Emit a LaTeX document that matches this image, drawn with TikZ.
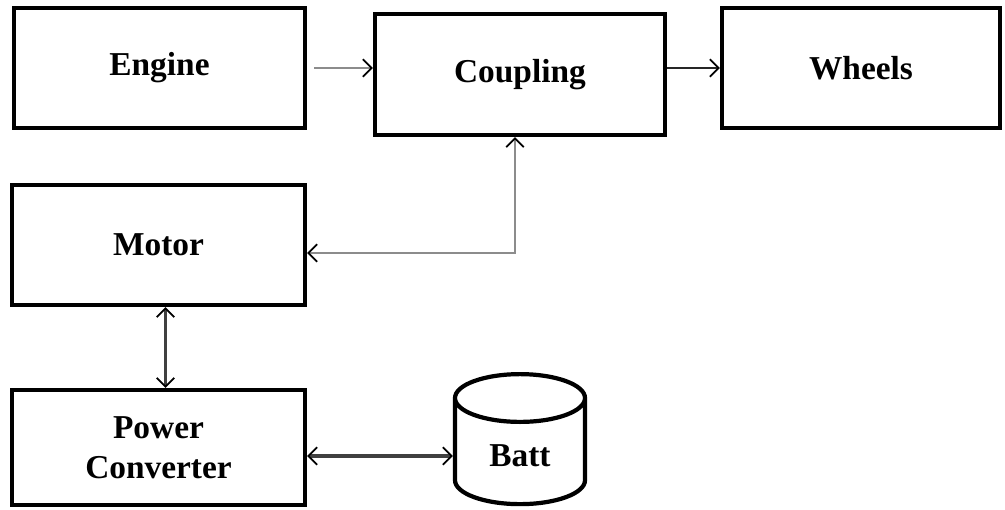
\documentclass[tikz,border=0pt]{standalone}
\usepackage{fontspec}
\setmainfont{Liberation Serif}
\usetikzlibrary{shapes.geometric}
\usetikzlibrary{arrows.meta}
\tikzset{block/.style={shape=rectangle, draw=black, line width=2.4pt, inner sep=2pt, align=center, font=\fontsize{19}{23}\selectfont\bfseries}}
\tikzset{barb/.tip={Straight Barb[length=5pt, width=10pt, line width=1pt, black]}}
\tikzset{link/.style={line width=1.3pt, draw=black!45, -barb}}
\tikzset{duplex/.style={line width=2.2pt, draw=black!75, barb-barb}}

\begin{document}
\begin{tikzpicture}
		\useasboundingbox (0,0) rectangle (20.1,-10.2);
		\node[block, minimum width=5.82cm, minimum height=2.4cm] (E) at (3.19,-1.36) {Engine};
		\node[block, minimum width=5.8cm, minimum height=2.42cm] (C) at (10.4,-1.49) {Coupling};
		\node[block, minimum width=5.56cm, minimum height=2.4cm] (W) at (17.22,-1.36) {Wheels};
		\node[block, minimum width=5.86cm, minimum height=2.4cm] (M) at (3.17,-4.9) {Motor};
		\node[block, minimum width=5.86cm, minimum height=2.3cm] (P) at (3.17,-8.95) {Power\\Converter};
		\node[block, shape=cylinder, shape border rotate=90, aspect=0.7, minimum width=2.6cm, minimum height=2.6cm, text depth=-0.5cm] (B) at (10.4,-9.12) {Batt};
		\draw [link, shorten <=4pt] (E.east) -- (E.east -| C.west);
		\draw [link, draw=black!85] (C.east |- W.west) -- (W.west);
		\draw [link, barb-barb] ([yshift=-0.16cm]M.east) -| ([xshift=-0.1cm]C.south);
		\draw [duplex] ([xshift=0.14cm]M.south) -- ([xshift=0.14cm]P.north);
		\draw [duplex] (P.east |- B.center) -- (B.west |- B.center);
	\end{tikzpicture}
\end{document}
